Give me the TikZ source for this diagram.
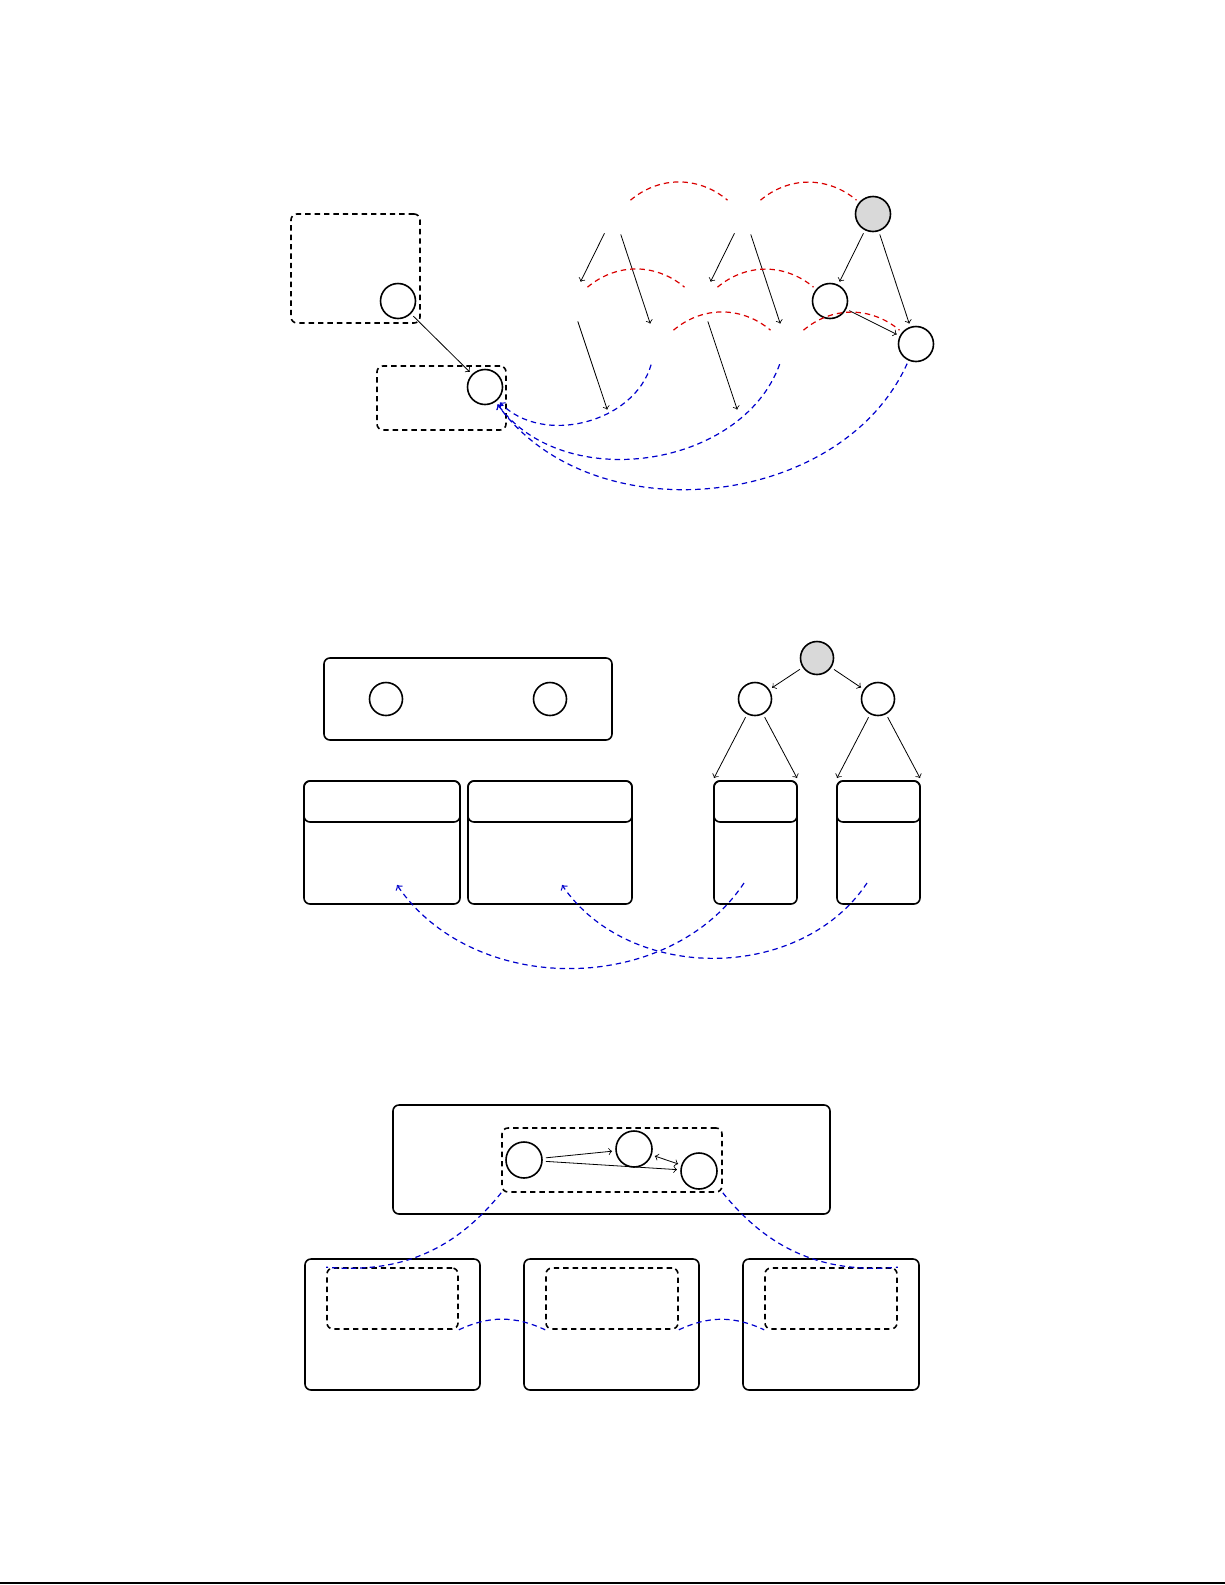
\documentclass[tikz,border=0pt]{standalone}
\usepackage{tikz}
\tikzset{
whitevertexv1/.style={circle, draw=black!100,fill=white!100,thick, inner sep=0pt, minimum size= 17.5pt, outer sep=2pt},
greyvertexv1/.style={circle, draw=black!100,fill=black!15,thick, inner sep=0pt, minimum size= 17.5pt, outer sep=2pt},
ghostvertex/.style={circle, draw=none,fill=none, inner sep=0pt, minimum size= 17.5pt, outer sep=2pt},
dashedboxv1/.style={rectangle, draw=black!100,fill=none,thick,dash pattern=on 2.7pt off 2pt, rounded corners=3pt, inner sep=0pt},
solidboxv1/.style={rectangle, draw=black!100,fill=none,thick, rounded corners=3pt, inner sep=0pt, outer xsep=0pt, outer ysep=1.5pt},
redlink/.style={red!85!black, semithick, dash pattern=on 2.7pt off 2pt},
bluelink/.style={blue!80!black, semithick, dash pattern=on 2.7pt off 2pt},
}
\begin{document}
\begin{tikzpicture}[x=0.5pt,y=0.5pt]
    \useasboundingbox (0,0) rectangle (1225,-1585);

    % top
    \node[dashedboxv1, minimum width=64.5pt, minimum height=54.5pt] at (355.5,-268.5) (boxu) {};
    \node[whitevertexv1] at (398,-301) (u) {};
    \node[dashedboxv1, minimum width=64.5pt, minimum height=32pt] at (441.5,-398) (boxv) {};
    \node[whitevertexv1] at (485,-387) (v) {};
    \node[ghostvertex] at (614,-214) (root1) {};
    \node[ghostvertex] at (571,-301) (left1) {};
    \node[ghostvertex] at (657,-344) (right1) {};
    \node[ghostvertex] at (614,-430) (down1) {};
    \node[ghostvertex] at (744,-214) (root2) {};
    \node[ghostvertex] at (701,-301) (left2) {};
    \node[ghostvertex] at (787,-344) (right2) {};
    \node[ghostvertex] at (744,-430) (down2) {};
    \node[greyvertexv1] at (873,-214) (root3) {};
    \node[whitevertexv1] at (830,-301) (left3) {};
    \node[whitevertexv1] at (916,-344) (right3) {};
     \draw[thin,black,->] (u) to (v);
     \draw[thin,black,->] (root1) to (left1);
     \draw[thin,black,->] (root1) to (right1);
     \draw[thin,black,->] (left1) to (down1);
     \draw[thin,black,->] (root2) to (left2);
     \draw[thin,black,->] (root2) to (right2);
     \draw[thin,black,->] (left2) to (down2);
     \draw[thin,black,->] (root3) to (left3);
     \draw[thin,black,->] (root3) to (right3);
     \draw[thin,black,->] (left3) to (right3);
     \draw[redlink,bend left =40] (root1) to (root2);
     \draw[redlink,bend left =40] (root2) to (root3);
     \draw[redlink,bend left =40] (left1) to (left2);
     \draw[redlink,bend left =40] (left2) to (left3);
     \draw[redlink,bend left =40] (right1) to (right2);
     \draw[redlink,bend left =40] (right2) to (right3);
     \draw[bluelink,bend left =60,->] (right1) to (v);
     \draw[bluelink,bend left =62,->] (right2) to (v);
     \draw[bluelink,bend left =60,->] (right3) to (v);

    % middle
    \begin{scope}[whitevertexv1/.append style={minimum size=16.5pt}, greyvertexv1/.append style={minimum size=16.5pt}]
    \node[solidboxv1, minimum width=144pt, minimum height=41pt] at (468,-699) (pairbox) {};
    \node[whitevertexv1] at (386,-699) (p1) {};
    \node[whitevertexv1] at (550,-699) (p2) {};
    \node[greyvertexv1] at (817,-658) (top) {};
    \node[whitevertexv1] at (755,-699) (kidl) {};
    \node[whitevertexv1] at (878,-699) (kidr) {};
    \node[solidboxv1, minimum width=78pt, minimum height=61.5pt] at (382,-842.5) (cella) {};
    \node[solidboxv1, minimum width=78pt, minimum height=20.5pt] at (382,-801.5) (heada) {};
    \node[solidboxv1, minimum width=82pt, minimum height=61.5pt] at (550,-842.5) (cellb) {};
    \node[solidboxv1, minimum width=82pt, minimum height=20.5pt] at (550,-801.5) (headb) {};
    \node[solidboxv1, minimum width=41.5pt, minimum height=61.5pt] at (755.5,-842.5) (cellc) {};
    \node[solidboxv1, minimum width=41.5pt, minimum height=20.5pt] at (755.5,-801.5) (headc) {};
    \node[solidboxv1, minimum width=41.5pt, minimum height=61.5pt] at (878.5,-842.5) (celld) {};
    \node[solidboxv1, minimum width=41.5pt, minimum height=20.5pt] at (878.5,-801.5) (headd) {};
    \coordinate (ina) at (397,-885);
    \coordinate (inb) at (562,-885);
    \coordinate (inc) at (744,-883);
    \coordinate (ind) at (867,-883);
     \draw[thin,black,->] (top) to (kidl);
     \draw[thin,black,->] (top) to (kidr);
     \draw[thin,black,->] (kidl) to (headc.north west);
     \draw[thin,black,->] (kidl) to (headc.north east);
     \draw[thin,black,->] (kidr) to (headd.north west);
     \draw[thin,black,->] (kidr) to (headd.north east);
     \draw[bluelink,bend left =56,->] (inc) to (ina);
     \draw[bluelink,bend left =56,->] (ind) to (inb);
    \end{scope}

    % bottom
    \begin{scope}[whitevertexv1/.append style={minimum size=18pt}]
    \node[solidboxv1, minimum width=218.5pt, minimum height=54.5pt] at (611.5,-1159.5) (bigbox) {};
    \node[dashedboxv1, minimum width=110pt, minimum height=32pt] at (612,-1160) (clusterbox) {};
    \node[whitevertexv1] at (524,-1160) (c1) {};
    \node[whitevertexv1] at (634,-1149) (c2) {};
    \node[whitevertexv1] at (699,-1171) (c3) {};
    \node[solidboxv1, minimum width=87.5pt, minimum height=65.5pt] at (392.5,-1324.5) (part1) {};
    \node[solidboxv1, minimum width=87.5pt, minimum height=65.5pt] at (611.5,-1324.5) (part2) {};
    \node[solidboxv1, minimum width=88pt, minimum height=65.5pt] at (831,-1324.5) (part3) {};
    \node[dashedboxv1, minimum width=65.5pt, minimum height=30.5pt] at (392.5,-1298.5) (inner1) {};
    \node[dashedboxv1, minimum width=66pt, minimum height=30.5pt] at (612,-1298.5) (inner2) {};
    \node[dashedboxv1, minimum width=66pt, minimum height=30.5pt] at (831,-1298.5) (inner3) {};
     \draw[thin,black,->] (c1) to (c2);
     \draw[thin,black,->] (c1) to (c3);
     \draw[thin,black,<->] (c2) to (c3);
     \draw[bluelink,bend left =28] (clusterbox.south west) to (inner1.north west);
     \draw[bluelink,bend right =28] (clusterbox.south east) to (inner3.north east);
     \draw[bluelink,bend left =25] (inner1.south east) to (inner2.south west);
     \draw[bluelink,bend left =25] (inner2.south east) to (inner3.south west);
    \end{scope}

    \coordinate (edgel) at (0,-1583);
    \coordinate (edger) at (1225,-1583);
     \draw[line width=1pt] (edgel) -- (edger);
\end{tikzpicture}
\end{document}
